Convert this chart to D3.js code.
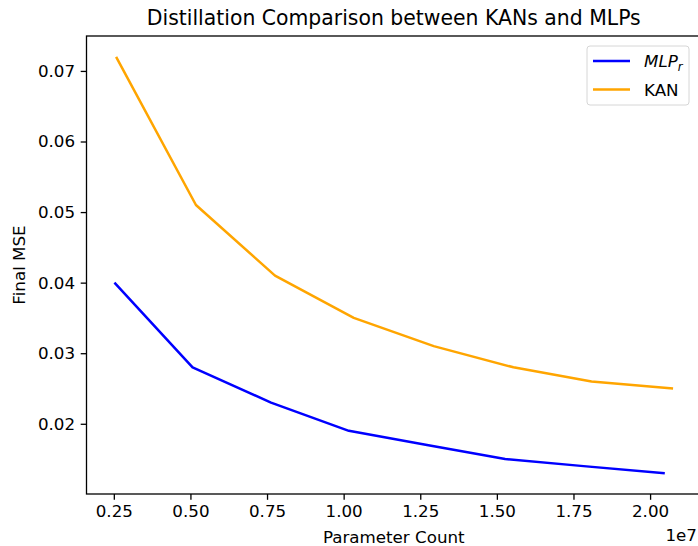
<!DOCTYPE html>
<html>
<head>
<meta charset="utf-8">
<script src="https://cdn.jsdelivr.net/npm/d3@7"></script>
<style>
  body { margin: 0; background: #fff; }
  svg { display: block; font-family: "DejaVu Sans", sans-serif; }
</style>
</head>
<body>
<div class="chart"></div>
<script>
// parameter counts
const mlpParams = [2.52e6, 5.07e6, 7.63e6, 10.17e6, 12.72e6, 15.27e6, 17.83e6, 20.48e6];
const mlpMSE = [0.040, 0.028, 0.023, 0.019, 0.017, 0.015, 0.014, 0.013];
const kanParams = [2.575e6, 5.18e6, 7.76e6, 10.33e6, 12.94e6, 15.54e6, 18.09e6, 20.75e6];
const kanMSE = [0.072, 0.051, 0.041, 0.035, 0.031, 0.028, 0.026, 0.025];
const xTicks = [0.25e7, 0.5e7, 0.75e7, 1e7, 1.25e7, 1.5e7, 1.75e7, 2e7];
const yTicks = [0.02, 0.03, 0.04, 0.05, 0.06, 0.07];

const width = 698, height = 546;
const margin = { top: 36, right: -3, bottom: 52, left: 86.5 };
const plotW = width - margin.left - margin.right,
  plotH = height - margin.top - margin.bottom;
const fs = 16.7; // 10pt at the figure's dpi

const series = [
  { name: "MLP", color: "#0000ff", xs: mlpParams, ys: mlpMSE },
  { name: "KAN", color: "#ffa500", xs: kanParams, ys: kanMSE }
];

// matplotlib-like 5% margins
function padded(vals) {
  const lo = d3.min(vals), hi = d3.max(vals), m = (hi - lo) * 0.05;
  return [lo - m, hi + m];
}

const x = d3.scaleLinear()
  .domain(padded(mlpParams.concat(kanParams)))
  .range([0, plotW]);
const y = d3.scaleLinear()
  .domain(padded(mlpMSE.concat(kanMSE)))
  .range([plotH, 0]);

const svg = d3.select(".chart")
  .append("svg")
  .attr("width", width)
  .attr("height", height);

const g = svg.append("g")
  .attr("transform", "translate(" + margin.left + "," + margin.top + ")");

// axes
const xAxis = g.append("g")
  .attr("transform", "translate(0," + plotH + ")")
  .call(d3.axisBottom(x).tickValues(xTicks).tickSize(5.8).tickPadding(5.6)
    .tickFormat(d => (d / 1e7).toFixed(2)));
const yAxis = g.append("g")
  .call(d3.axisLeft(y).tickValues(yTicks).tickSize(5.8).tickPadding(5.6)
    .tickFormat(d3.format(".2f")));

[xAxis, yAxis].forEach(a => {
  a.select(".domain").remove();
  a.selectAll(".tick line").attr("stroke", "#000").attr("stroke-width", 1.3);
  a.selectAll(".tick text").attr("fill", "#000").style("font-size", fs + "px")
    .style("font-family", "'DejaVu Sans', sans-serif");
});

// lines
const line = d3.line()
  .x(d => x(d[0]))
  .y(d => y(d[1]));

series.forEach(s => {
  g.append("path")
    .datum(d3.zip(s.xs, s.ys))
    .attr("fill", "none")
    .attr("stroke", s.color)
    .attr("stroke-width", 2.5)
    .attr("stroke-linejoin", "round")
    .attr("d", line);
});

// frame
g.append("rect")
  .attr("width", plotW)
  .attr("height", plotH)
  .attr("fill", "none")
  .attr("stroke", "#000")
  .attr("stroke-width", 1.3);

// titles
svg.append("text")
  .attr("x", margin.left + plotW / 2)
  .attr("y", 25)
  .attr("text-anchor", "middle")
  .style("font-size", "20.4px")
  .text("Distillation Comparison between KANs and MLPs");

svg.append("text")
  .attr("x", margin.left + plotW / 2)
  .attr("y", 543)
  .attr("text-anchor", "middle")
  .style("font-size", fs + "px")
  .text("Parameter Count");

svg.append("text")
  .attr("x", 697)
  .attr("y", 541)
  .attr("text-anchor", "end")
  .style("font-size", fs + "px")
  .text("1e7");

svg.append("text")
  .attr("transform", "translate(25," + (margin.top + plotH / 2) + ") rotate(-90)")
  .attr("text-anchor", "middle")
  .style("font-size", fs + "px")
  .text("Final MSE");

// legend
const legend = svg.append("g")
  .attr("transform", "translate(587,46)");
legend.append("rect")
  .attr("width", 102)
  .attr("height", 59)
  .attr("rx", 3)
  .attr("fill", "#fff")
  .attr("fill-opacity", 0.8)
  .attr("stroke", "#d6d6d6")
  .attr("stroke-width", 1);

const items = legend.selectAll(".legends")
  .data(series)
  .enter()
  .append("g")
  .attr("class", "legends")
  .attr("transform", (d, i) => "translate(0," + (15 + i * 28.6) + ")");

items.append("line")
  .attr("x1", 6).attr("x2", 43)
  .attr("stroke", d => d.color)
  .attr("stroke-width", 2.5);

const labels = items.append("text")
  .attr("x", 57)
  .attr("y", 6)
  .style("font-size", fs + "px");
labels.each(function(d) {
  const t = d3.select(this);
  if (d.name === "MLP") {
    t.append("tspan").style("font-style", "italic").text("MLP");
    t.append("tspan").style("font-style", "italic").style("font-size", "11.7px")
      .attr("dy", 3.5).text("r");
  } else {
    t.text(d.name);
  }
});
</script>
</body>
</html>
